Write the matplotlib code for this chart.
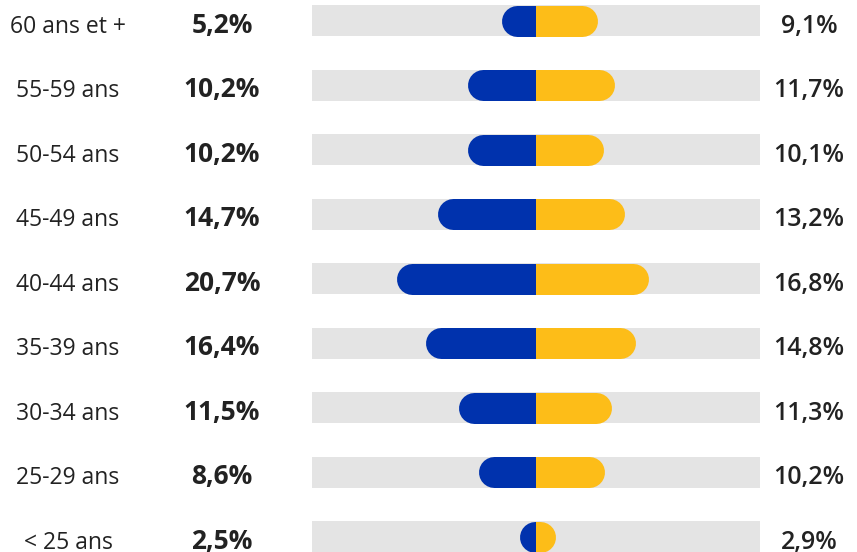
import matplotlib.pyplot as plt
from matplotlib.patches import Rectangle
from matplotlib.transforms import blended_transform_factory

plt.rcParams['font.family'] = ['Open Sans', 'DejaVu Sans']

categories = ['60 ans et +', '55-59 ans', '50-54 ans', '45-49 ans', '40-44 ans',
              '35-39 ans', '30-34 ans', '25-29 ans', '< 25 ans']
left_values = [5.2, 10.2, 10.2, 14.7, 20.7, 16.4, 11.5, 8.6, 2.5]
right_values = [9.1, 11.7, 10.1, 13.2, 16.8, 14.8, 11.3, 10.2, 2.9]

blue = '#0032ad'
yellow = '#fdbd18'
grey = '#e4e4e4'
text_col = '#222222'

W, H = 857, 552
fig = plt.figure(figsize=(W / 100, H / 100), dpi=100)
ax = fig.add_axes([312 / W, 0, 448 / W, 1])

lim = 224 / 6.72
ax.set_xlim(-lim, lim)
ax.set_ylim((H - 20.5) / 64.5, -20.5 / 64.5)
ax.axis('off')

bar_h = 31 / 64.5
lw = 31 * 72 / 100
r = 15.5 / 6.72

y = list(range(len(categories)))
ax.barh(y, 2 * lim, left=-lim, height=bar_h, color=grey, zorder=1)

for i, (lv, rv) in enumerate(zip(left_values, right_values)):
    # round cap on the outer end, flat edge at the centre line
    ln, = ax.plot([-lv + r, r], [i, i], color=blue, lw=lw,
                  solid_capstyle='round', zorder=2)
    ln.set_clip_path(Rectangle((-lim, i - 1), lim, 2, transform=ax.transData))
    ln, = ax.plot([-r, rv - r], [i, i], color=yellow, lw=lw,
                  solid_capstyle='round', zorder=2)
    ln.set_clip_path(Rectangle((0, i - 1), lim, 2, transform=ax.transData))

tr = blended_transform_factory(fig.transFigure, ax.transData)
fmt = lambda v: f'{v:.1f}'.replace('.', ',') + '%'
dy = 12.2 / 64.5
for i, c in enumerate(categories):
    fig.text(68 / W, i + dy, c, transform=tr, ha='center', va='baseline',
             fontsize=16.5, color=text_col)
    fig.text(222 / W, i + dy, fmt(left_values[i]), transform=tr, ha='center',
             va='baseline', fontsize=19, fontweight='bold', color=text_col)
    fig.text(809 / W, i + dy, fmt(right_values[i]), transform=tr, ha='center',
             va='baseline', fontsize=18, fontweight='semibold', color=text_col)

fig.savefig('out.png', dpi=100)
